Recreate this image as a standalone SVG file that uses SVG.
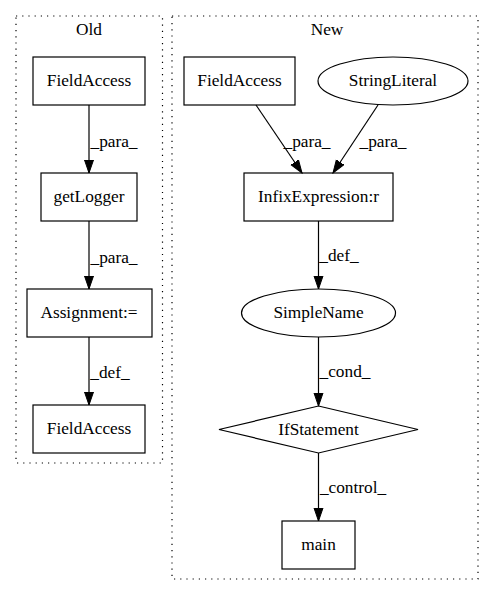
<svg xmlns="http://www.w3.org/2000/svg" width="495" height="596" viewBox="0 0 495 596">
<style>
text{font-family:"Liberation Serif","Times New Roman",serif;font-size:17.3px;fill:#000;text-anchor:middle}
.n{fill:none;stroke:#000;stroke-width:1.2}
.c{fill:none;stroke:#000;stroke-width:1.2;stroke-dasharray:1.2,5}
.e{fill:none;stroke:#000;stroke-width:1.2;marker-end:url(#ah)}
</style>
<defs>
<marker id="ah" markerUnits="userSpaceOnUse" markerWidth="14" markerHeight="12" refX="13" refY="5" orient="auto">
<path d="M0,0.5 L13,5 L0,9.5 z" fill="#000" stroke="#000" stroke-width="1"/>
</marker>
</defs>
<rect width="495" height="596" fill="#fff"/>
<g id="cluster_old">
<rect class="c" x="16" y="16" width="146.5" height="447"/>
<text x="89" y="35">Old</text>
</g>
<g id="cluster_new">
<rect class="c" x="172" y="16" width="306" height="563"/>
<text x="327" y="35">New</text>
</g>
<g id="old_fieldaccess1">
<rect class="n" x="33" y="57" width="112" height="48"/>
<text x="89" y="86">FieldAccess</text>
</g>
<g id="old_getlogger">
<rect class="n" x="41" y="173" width="96" height="48"/>
<text x="89" y="202">getLogger</text>
</g>
<g id="old_assignment">
<rect class="n" x="27" y="289" width="125" height="48"/>
<text x="89" y="318">Assignment:=</text>
</g>
<g id="old_fieldaccess2">
<rect class="n" x="33" y="405" width="112" height="48"/>
<text x="89" y="434">FieldAccess</text>
</g>
<g id="new_fieldaccess">
<rect class="n" x="184" y="57" width="111" height="48"/>
<text x="239.5" y="86">FieldAccess</text>
</g>
<g id="new_stringliteral">
<ellipse class="n" cx="393" cy="81" rx="75" ry="24"/>
<text x="393" y="86">StringLiteral</text>
</g>
<g id="new_infix">
<rect class="n" x="244" y="173" width="149" height="48"/>
<text x="318.5" y="202">InfixExpression:r</text>
</g>
<g id="new_simplename">
<ellipse class="n" cx="318.5" cy="313" rx="77" ry="24"/>
<text x="318.5" y="318">SimpleName</text>
</g>
<g id="new_ifstatement">
<polygon class="n" points="318.5,406 418,429.5 318.5,453 219,429.5"/>
<text x="318.5" y="435">IfStatement</text>
</g>
<g id="new_main">
<rect class="n" x="282" y="521" width="73" height="48"/>
<text x="318.5" y="550">main</text>
</g>
<g id="connectors">
<line class="e" x1="89" y1="105" x2="89" y2="173"/>
<text x="114" y="147">_para_</text>
<line class="e" x1="89" y1="221" x2="89" y2="289"/>
<text x="114" y="263">_para_</text>
<line class="e" x1="89" y1="337" x2="89" y2="405"/>
<text x="110" y="378">_def_</text>
<line class="e" x1="256" y1="105" x2="302" y2="173"/>
<text x="307" y="147">_para_</text>
<line class="e" x1="378" y1="105" x2="333" y2="173"/>
<text x="383" y="147">_para_</text>
<line class="e" x1="318.5" y1="221" x2="318.5" y2="289"/>
<text x="339" y="261">_def_</text>
<line class="e" x1="318.5" y1="337" x2="318.5" y2="406"/>
<text x="345" y="377">_cond_</text>
<line class="e" x1="318.5" y1="453" x2="318.5" y2="521"/>
<text x="353" y="493">_control_</text>
</g>
</svg>
